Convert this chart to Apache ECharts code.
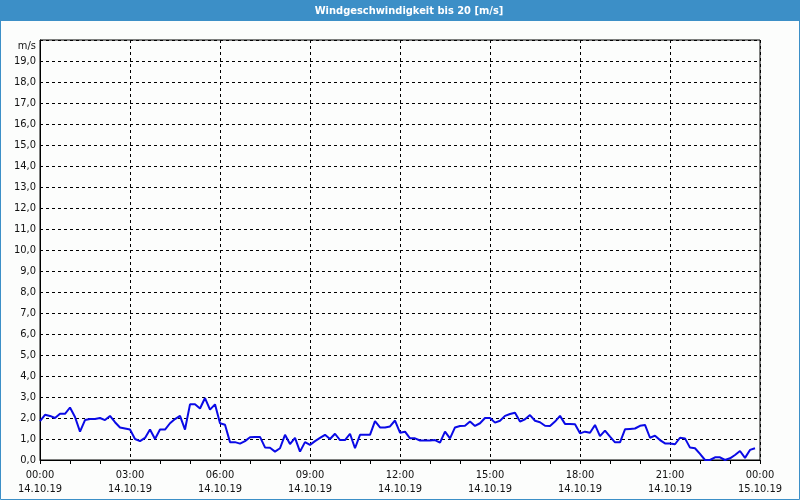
<!DOCTYPE html>
<html>
<head>
<meta charset="utf-8">
<script src="https://cdn.jsdelivr.net/npm/echarts@6/dist/echarts.min.js"></script>
<style>
html,body{margin:0;padding:0;background:#fcfdfc;}
#c{width:800px;height:500px;}
</style>
</head>
<body>
<div id="c"></div>
<script>
// Wind speed every 10 minutes from 14.10.19 00:00 (m/s)
const startMinute = 0;
const stepMinutes = 10;
const windSpeed = [
1.85,2.15,2.1,2.0,2.2,2.2,2.5,2.05,1.35,1.9,1.95,1.95,2.0,1.9,2.1,1.8,1.55,1.5,
1.45,1.0,0.9,1.05,1.45,1.0,1.45,1.45,1.75,1.95,2.1,1.45,2.65,2.65,2.45,2.95,2.4,2.65,
1.75,1.68,0.85,0.85,0.78,0.9,1.08,1.1,1.1,0.6,0.58,0.4,0.56,1.2,0.76,1.05,0.4,0.85,
0.72,0.9,1.05,1.2,1.0,1.25,0.95,0.95,1.25,0.56,1.2,1.2,1.2,1.85,1.55,1.55,1.6,1.88,
1.3,1.35,1.03,1.03,0.93,0.93,0.93,0.95,0.83,1.35,1.03,1.55,1.62,1.63,1.83,1.62,1.75,2.0,
2.0,1.78,1.87,2.1,2.19,2.25,1.83,1.94,2.14,1.87,1.8,1.63,1.62,1.83,2.1,1.72,1.72,1.7,
1.27,1.35,1.3,1.67,1.14,1.4,1.11,0.84,0.84,1.46,1.48,1.5,1.63,1.67,1.06,1.16,0.95,0.79,
0.79,0.75,1.06,1.03,0.59,0.56,0.29,0.0,0.0,0.13,0.13,0.0,0.08,0.24,0.43,0.1,0.48,0.56
];
const xTickTimes = ["00:00","03:00","06:00","09:00","12:00","15:00","18:00","21:00","00:00"];
const xTickDates = ["14.10.19","14.10.19","14.10.19","14.10.19","14.10.19","14.10.19","14.10.19","14.10.19","15.10.19"];
const yTickLabels = ["0,0","1,0","2,0","3,0","4,0","5,0","6,0","7,0","8,0","9,0","10,0",
"11,0","12,0","13,0","14,0","15,0","16,0","17,0","18,0","19,0",""];
const titleText = "Windgeschwindigkeit bis 20 [m/s]";
const unitText = "m/s";

const seriesData = windSpeed.map((v, i) => [startMinute + i * stepMinutes, v]);
const fontFam = '"DejaVu Sans Condensed","DejaVu Sans",sans-serif';
const chart = echarts.init(document.getElementById('c'), null, {renderer:'canvas'});
chart.setOption({
  backgroundColor: '#fcfdfc',
  animation: false,
  grid: {left: 40, right: 40, top: 40, bottom: 40, show: true, borderColor: '#000', borderWidth: 1, backgroundColor: 'transparent'},
  xAxis: {
    type: 'value', min: 0, max: 1440, interval: 180,
    axisLine: {show: true, lineStyle: {color: '#000', width: 1}},
    axisTick: {show: true, length: 4, lineStyle: {color: '#000'}},
    minorTick: {show: true, splitNumber: 3, length: 4, lineStyle: {color: '#000'}},
    splitLine: {show: true, lineStyle: {color: '#000', type: [3,3], width: 1}},
    axisLabel: {
      margin: 8, color: '#111', fontFamily: fontFam, fontSize: 11, lineHeight: 14,
      formatter: v => { const k = Math.round(v / 180); return xTickTimes[k] + '\n' + xTickDates[k]; }
    }
  },
  yAxis: {
    type: 'value', min: 0, max: 20, interval: 1,
    axisLine: {show: true, lineStyle: {color: '#000', width: 1}},
    axisTick: {show: false},
    splitLine: {show: true, lineStyle: {color: '#000', type: [3,3], width: 1}},
    axisLabel: {margin: 4, color: '#111', fontFamily: fontFam, fontSize: 11,
      formatter: v => yTickLabels[Math.round(v)]}
  },
  graphic: [
    {type: 'rect', shape: {x: 0, y: 0, width: 800, height: 21}, style: {fill: '#3c8fc7'}, z: 10},
    {type: 'rect', shape: {x: 0.5, y: 0.5, width: 799, height: 499}, style: {fill: 'none', stroke: '#3c8fc7', lineWidth: 1}, z: 10},
    {type: 'text', x: 409, y: 11, style: {text: titleText, fill: '#fff', font: 'bold 11px ' + fontFam, textAlign: 'center', textVerticalAlign: 'middle'}, z: 11},
    {type: 'text', x: 36, y: 46, style: {text: unitText, fill: '#111', font: '11px ' + fontFam, textAlign: 'right', textVerticalAlign: 'middle'}, z: 11}
  ],
  series: [{
    type: 'line', data: seriesData, showSymbol: false, symbol: 'none',
    lineStyle: {color: '#0a0ae6', width: 2}, z: 5
  }]
});
</script>
</body>
</html>
